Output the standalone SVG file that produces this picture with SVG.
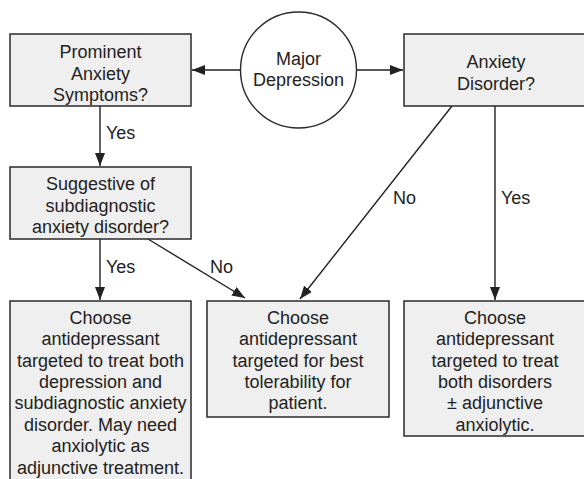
<svg xmlns="http://www.w3.org/2000/svg" width="584" height="479" viewBox="0 0 584 479">
<style>
.box{fill:#efefef;stroke:#2a2a2a;stroke-width:1.5}
.t{font-family:"Liberation Sans",Arial,sans-serif;font-size:18px;fill:#222;text-anchor:middle}
.l{font-family:"Liberation Sans",Arial,sans-serif;font-size:18px;fill:#222}
.c{stroke:#222;stroke-width:1.4;fill:none;marker-end:url(#ah)}
</style>
<defs>
<marker id="ah" markerUnits="userSpaceOnUse" markerWidth="14" markerHeight="10" viewBox="0 0 14 10" refX="13" refY="5" orient="auto">
<path d="M0,0 L13,5 L0,10 Z" fill="#222"/>
</marker>
</defs>
<rect width="584" height="479" fill="#fff"/>
<g id="connectors">
<line class="c" x1="240" y1="70" x2="192" y2="70"/>
<line class="c" x1="357" y1="70" x2="403" y2="70"/>
<line class="c" x1="100" y1="106" x2="100" y2="166"/>
<line class="c" x1="100" y1="239" x2="100" y2="300"/>
<line class="c" x1="148" y1="239" x2="245" y2="298"/>
<line class="c" x1="452" y1="106" x2="300" y2="299"/>
<line class="c" x1="495" y1="106" x2="495" y2="300"/>
<text class="l" x="106" y="139">Yes</text>
<text class="l" x="106" y="273">Yes</text>
<text class="l" x="210" y="273">No</text>
<text class="l" x="393" y="204">No</text>
<text class="l" x="501" y="204">Yes</text>
</g>
<g id="major-depression">
<circle cx="298.5" cy="70" r="58" fill="#fff" stroke="#2a2a2a" stroke-width="1.4"/>
<text class="t" x="298.5" y="65">Major</text>
<text class="t" x="298.5" y="86">Depression</text>
</g>
<g id="prominent-anxiety">
<rect class="box" x="10" y="34" width="181" height="72"/>
<text class="t" x="100.5" y="58">Prominent</text>
<text class="t" x="100.5" y="79.5">Anxiety</text>
<text class="t" x="100.5" y="101">Symptoms?</text>
</g>
<g id="anxiety-disorder">
<rect class="box" x="404" y="34" width="184" height="72"/>
<text class="t" x="496" y="68">Anxiety</text>
<text class="t" x="496" y="89.5">Disorder?</text>
</g>
<g id="suggestive">
<rect class="box" x="10" y="167" width="181" height="72"/>
<text class="t" x="100.5" y="190">Suggestive of</text>
<text class="t" x="100.5" y="211.5">subdiagnostic</text>
<text class="t" x="100.5" y="233">anxiety disorder?</text>
</g>
<g id="choose-both-subdiagnostic">
<rect class="box" x="10" y="301" width="181" height="185"/>
<text class="t" x="100.5" y="323.5">Choose</text>
<text class="t" x="100.5" y="345">antidepressant</text>
<text class="t" x="100.5" y="366.5">targeted to treat both</text>
<text class="t" x="100.5" y="387.5">depression and</text>
<text class="t" x="100.5" y="409">subdiagnostic anxiety</text>
<text class="t" x="100.5" y="430.5">disorder. May need</text>
<text class="t" x="100.5" y="452">anxiolytic as</text>
<text class="t" x="100.5" y="473.5">adjunctive treatment.</text>
</g>
<g id="choose-tolerability">
<rect class="box" x="207" y="301" width="182" height="116"/>
<text class="t" x="298" y="323.5">Choose</text>
<text class="t" x="298" y="345">antidepressant</text>
<text class="t" x="298" y="366.5">targeted for best</text>
<text class="t" x="298" y="387.5">tolerability for</text>
<text class="t" x="298" y="409">patient.</text>
</g>
<g id="choose-both-disorders">
<rect class="box" x="404" y="301" width="184" height="135"/>
<text class="t" x="495" y="323.5">Choose</text>
<text class="t" x="495" y="345">antidepressant</text>
<text class="t" x="495" y="366.5">targeted to treat</text>
<text class="t" x="495" y="387.5">both disorders</text>
<text class="t" x="495" y="409">± adjunctive</text>
<text class="t" x="495" y="430.5">anxiolytic.</text>
</g>
</svg>
